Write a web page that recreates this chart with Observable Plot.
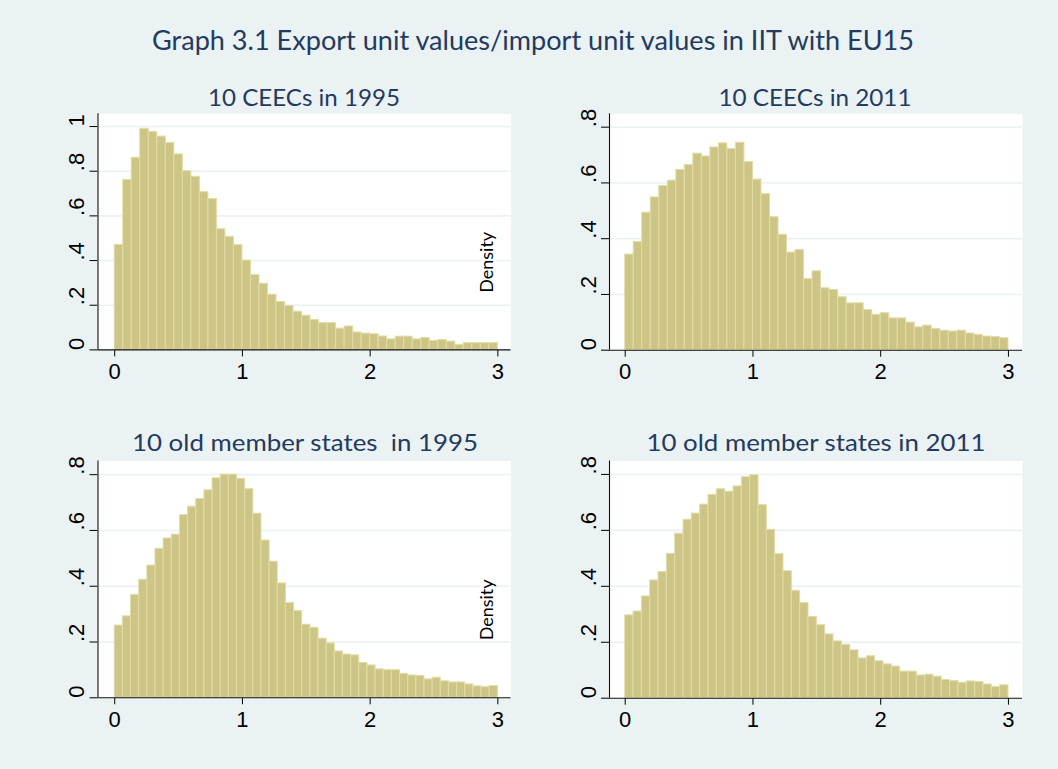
<!DOCTYPE html>
<html>
<head>
<meta charset="utf-8">
<script src="https://cdn.jsdelivr.net/npm/d3@7"></script>
<script src="https://cdn.jsdelivr.net/npm/@observablehq/plot@0.6"></script>
<style>
  html, body { margin: 0; padding: 0; background: #eaf2f3; }
  #chart { position: relative; width: 1058px; height: 769px; background: #eaf2f3; overflow: hidden; }
  .lbl { position: absolute; white-space: pre; line-height: 1; color: #243a5e; font-family: Lato, "Open Sans", sans-serif; }
  .panel { position: absolute; }
</style>
</head>
<body>
<div id="chart"></div>
<script>
// ---- Data (densities, bins spanning 0..3) ----
const binRange = [0, 3];
const ceec1995 = [0.470, 0.761, 0.860, 0.990, 0.975, 0.955, 0.927, 0.875, 0.800, 0.775, 0.706, 0.675, 0.540, 0.506, 0.469,
  0.400, 0.336, 0.296, 0.247, 0.214, 0.197, 0.171, 0.153, 0.134, 0.120, 0.120, 0.095, 0.105, 0.078, 0.073,
  0.070, 0.060, 0.047, 0.059, 0.059, 0.047, 0.053, 0.040, 0.044, 0.037, 0.023, 0.030, 0.030, 0.030, 0.030];
const ceec2011 = [0.343, 0.388, 0.493, 0.548, 0.589, 0.608, 0.647, 0.664, 0.705, 0.695, 0.727, 0.742, 0.722, 0.744, 0.675,
  0.612, 0.560, 0.477, 0.414, 0.350, 0.359, 0.255, 0.283, 0.222, 0.216, 0.190, 0.168, 0.168, 0.144, 0.127,
  0.133, 0.114, 0.114, 0.099, 0.082, 0.088, 0.076, 0.070, 0.067, 0.070, 0.060, 0.055, 0.049, 0.047, 0.043];
const old1995 = [0.259, 0.292, 0.369, 0.423, 0.474, 0.534, 0.571, 0.585, 0.655, 0.685, 0.713, 0.744, 0.787, 0.800, 0.800,
  0.785, 0.748, 0.660, 0.564, 0.488, 0.410, 0.340, 0.311, 0.262, 0.251, 0.212, 0.195, 0.166, 0.155, 0.152,
  0.125, 0.116, 0.102, 0.099, 0.099, 0.086, 0.080, 0.078, 0.066, 0.072, 0.059, 0.055, 0.055, 0.048, 0.041,
  0.038, 0.042];
const old2011 = [0.296, 0.310, 0.364, 0.421, 0.451, 0.516, 0.588, 0.638, 0.660, 0.692, 0.727, 0.747, 0.738, 0.757, 0.790,
  0.797, 0.690, 0.602, 0.515, 0.454, 0.384, 0.340, 0.290, 0.261, 0.228, 0.203, 0.191, 0.171, 0.142, 0.150,
  0.132, 0.121, 0.113, 0.095, 0.095, 0.081, 0.084, 0.077, 0.065, 0.061, 0.055, 0.060, 0.058, 0.049, 0.040,
  0.046];
const xTicks = [0, 1, 2, 3];
const yTicksTall = [0, 0.2, 0.4, 0.6, 0.8, 1];
const yTicks = [0, 0.2, 0.4, 0.6, 0.8];
const mainTitle = "Graph 3.1 Export unit values/import unit values in IIT with EU15";
const panelTitles = ["10 CEECs in 1995", "10 CEECs in 2011", "10 old member states  in 1995", "10 old member states in 2011"];
const yTitle = "Density";

const chart = document.getElementById("chart");
const fmtY = d => d === 0 ? "0" : d === 1 ? "1" : d3.format(".1f")(d).replace(/^0/, "");
const tickFont = '"Liberation Sans", Arial, sans-serif';

function bins(values) {
  const n = values.length, w = (binRange[1] - binRange[0]) / n;
  return values.map((v, i) => ({x1: binRange[0] + i * w, x2: binRange[0] + (i + 1) * w, y: v}));
}

function panel(cfg) {
  const data = bins(cfg.values);
  const W = 500, H = 300;
  const marks = [
    Plot.frame({fill: "white", stroke: null}),
    Plot.ruleY(cfg.yTicks.filter(d => d > 0), {stroke: "#eaf2f3", strokeWidth: 1.6}),
    Plot.rectY(data, {x1: "x1", x2: "x2", y: "y", fill: "#cdc585", stroke: "#e2dca8", strokeWidth: 1, inset: 0}),
    Plot.ruleY([0], {stroke: "#111", strokeWidth: 1.1}),
    Plot.ruleX([cfg.xDomain[0]], {stroke: "#111", strokeWidth: 1.1}),
    Plot.text(cfg.yTicks, {y: d => d, text: fmtY, frameAnchor: "left", dx: -21, rotate: -90,
      fontSize: 22, fontFamily: tickFont, fill: "#000"}),
    Plot.text(xTicks, {x: d => d, text: d => String(d), frameAnchor: "bottom", dy: 29,
      fontSize: 22, fontFamily: tickFont, fill: "#000"})
  ];
  if (cfg.density) {
    marks.push(Plot.text([yTitle], {text: d => d, frameAnchor: "right", dx: -23.5, rotate: -90,
      fontSize: 18, fontFamily: 'Lato, "Open Sans", sans-serif', fill: "#000"}));
  }
  const svg = Plot.plot({
    width: W, height: H,
    marginLeft: cfg.mL, marginRight: W - cfg.mL - cfg.pw, marginTop: cfg.mT, marginBottom: H - cfg.mT - cfg.ph,
    x: {domain: cfg.xDomain, ticks: xTicks, tickSize: 7, tickFormat: () => "", label: null},
    y: {domain: cfg.yDomain, ticks: cfg.yTicks, tickSize: 8, tickFormat: () => "", label: null},
    style: {background: "transparent", fontFamily: tickFont, color: "#000", overflow: "visible"},
    marks
  });
  svg.classList.add("panel");
  svg.style.left = cfg.left + "px";
  svg.style.top = cfg.top + "px";
  chart.append(svg);
}

// plot regions (page coords): left axis / right edge / top / bottom
panel({values: ceec1995, yTicks: yTicksTall, left: 30, top: 100, mL: 67.5, pw: 413, mT: 13.3, ph: 236.1,
  xDomain: [-0.131, 3.103], yDomain: [0, 1.057], density: true});
panel({values: ceec2011, yTicks, left: 540, top: 100, mL: 69, pw: 413, mT: 13.3, ph: 236.4,
  xDomain: [-0.123, 3.110], yDomain: [0, 0.848]});
panel({values: old1995, yTicks, left: 30, top: 447, mL: 67.5, pw: 413, mT: 13.5, ph: 236.8,
  xDomain: [-0.131, 3.103], yDomain: [0, 0.849], density: true});
panel({values: old2011, yTicks, left: 540, top: 447, mL: 69, pw: 413, mT: 13.5, ph: 237.2,
  xDomain: [-0.123, 3.110], yDomain: [0, 0.848]});

function label(text, cx, cy, size, targetW) {
  const s = document.createElement("span");
  s.className = "lbl";
  s.textContent = text;
  s.style.left = cx + "px";
  s.style.top = cy + "px";
  s.style.fontSize = size + "px";
  chart.append(s);
  const w = s.getBoundingClientRect().width;
  s.style.transform = `translate(-50%, -50%) scaleX(${(targetW / w).toFixed(4)})`;
}
label(mainTitle, 533, 40, 26, 762);
label(panelTitles[0], 304, 97, 24, 192);
label(panelTitles[1], 815, 97, 24, 193);
label(panelTitles[2], 305, 442, 24, 346);
label(panelTitles[3], 816, 442, 24, 339);
</script>
</body>
</html>
